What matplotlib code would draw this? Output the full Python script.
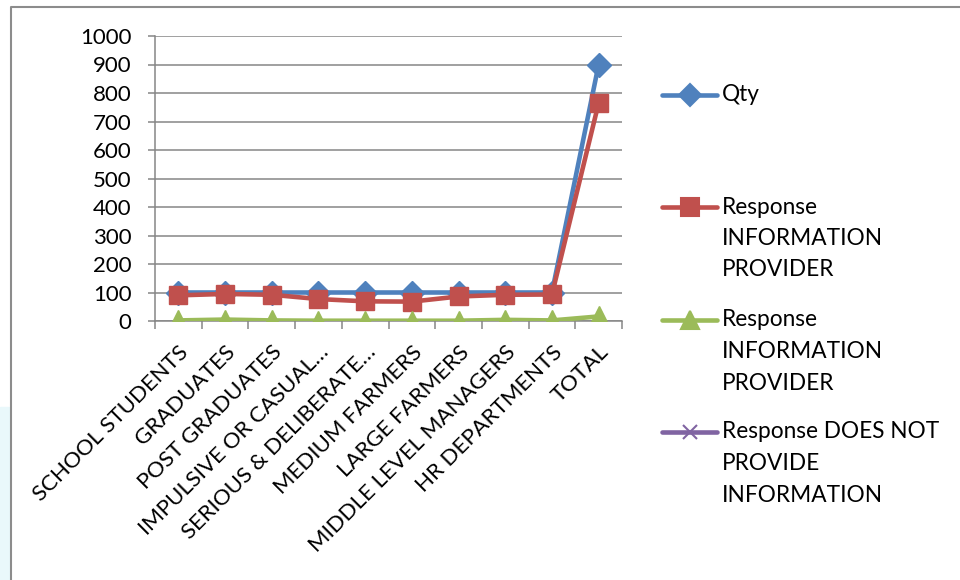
import matplotlib
matplotlib.use('Agg')
import matplotlib.pyplot as plt
from matplotlib.lines import Line2D
from matplotlib.patches import Rectangle

plt.rcParams['font.family'] = ['Lato', 'DejaVu Sans']

# survey groups and responses
categories = ['SCHOOL STUDENTS', 'GRADUATES', 'POST GRADUATES', 'IMPULSIVE OR CASUAL…',
              'SERIOUS & DELIBERATE…', 'MEDIUM FARMERS', 'LARGE FARMERS',
              'MIDDLE LEVEL MANAGERS', 'HR DEPARTMENTS', 'TOTAL']
qty = [100, 100, 100, 100, 100, 100, 100, 100, 100, 900]
info_provider = [90, 95, 92, 77, 69, 68, 86, 92, 93, 765]
info_provider_2 = [2, 5, 2, 1, 1, 1, 1, 4, 2, 16]
no_info = []  # nothing recorded for this series
yticks = list(range(0, 1001, 100))

W, H = 960, 580
fig = plt.figure(figsize=(W / 100, H / 100), dpi=100)
ax = fig.add_axes([155 / W, 1 - 321 / H, (622 - 155) / W, (321 - 36) / H])

grid = '#868686'
x = list(range(len(categories)))
ax.plot(x, qty, color='#4F81BD', lw=3.3, marker='D', ms=12.5, zorder=3, solid_joinstyle='round')
ax.plot(x, info_provider, color='#C0504D', lw=3.3, marker='s', ms=13.5, zorder=4, solid_joinstyle='round')
ax.plot(x, info_provider_2, color='#9BBB59', lw=3.3, marker='^', ms=14, zorder=5, solid_joinstyle='round')

ax.set_xlim(-0.5, len(categories) - 0.5)
ax.set_ylim(0, 1000)
ax.set_yticks(yticks)
ax.yaxis.grid(True, color=grid, lw=1.1)
ax.set_axisbelow(True)
for s in ['top', 'right']:
    ax.spines[s].set_visible(False)
for s in ['left', 'bottom']:
    ax.spines[s].set_color(grid)
    ax.spines[s].set_linewidth(1.1)

# ticks sit between categories, labels at the centres
ax.set_xticks([i - 0.5 for i in range(len(categories) + 1)])
ax.set_xticklabels([])
ax.set_xticks(x, minor=True)
ax.set_xticklabels(categories, minor=True, rotation=45, ha='right', va='top',
                   rotation_mode='anchor', fontsize=16)
ax.tick_params(axis='x', which='minor', length=0, pad=15)
ax.tick_params(axis='x', which='major', length=6, color=grid, width=1.1)
ax.tick_params(axis='y', length=5, color=grid, width=1.1, pad=12, labelsize=16)

# legend drawn at the right, marker on the first text line
def px(xp, yp):
    return xp / W, 1 - yp / H

legend = [
    ('#4F81BD', 'D', 11, ['Qty'], 95),
    ('#C0504D', 's', 12.5, ['Response', 'INFORMATION', 'PROVIDER'], 207),
    ('#9BBB59', '^', 13, ['Response', 'INFORMATION', 'PROVIDER'], 320),
    ('#8064A2', 'x', 10, ['Response DOES NOT', 'PROVIDE', 'INFORMATION'], 432),
]
for color, mk, ms, lines, y0 in legend:
    x0, y = px(662, y0)
    x1, _ = px(717, y0)
    fig.add_artist(Line2D([x0, x1], [y, y], color=color, lw=3.3, solid_capstyle='round',
                          transform=fig.transFigure))
    fig.add_artist(Line2D([(x0 + x1) / 2], [y], color=color, marker=mk, ms=ms, mew=1.5,
                          transform=fig.transFigure))
    for k, t in enumerate(lines):
        tx, ty = px(722, y0 + k * 31.5)
        fig.text(tx, ty, t, fontsize=16.3, va='center', ha='left')

# chart area border
fig.add_artist(Line2D([11 / W, 11 / W, 1], [0, 1 - 6.5 / H, 1 - 6.5 / H], color='#8c8c8c', lw=1.5,
                      transform=fig.transFigure))
fig.add_artist(Rectangle((0, 0), 9 / W, 173 / H, color='#e9f8fb', transform=fig.transFigure))

fig.savefig('out.png', dpi=100)
